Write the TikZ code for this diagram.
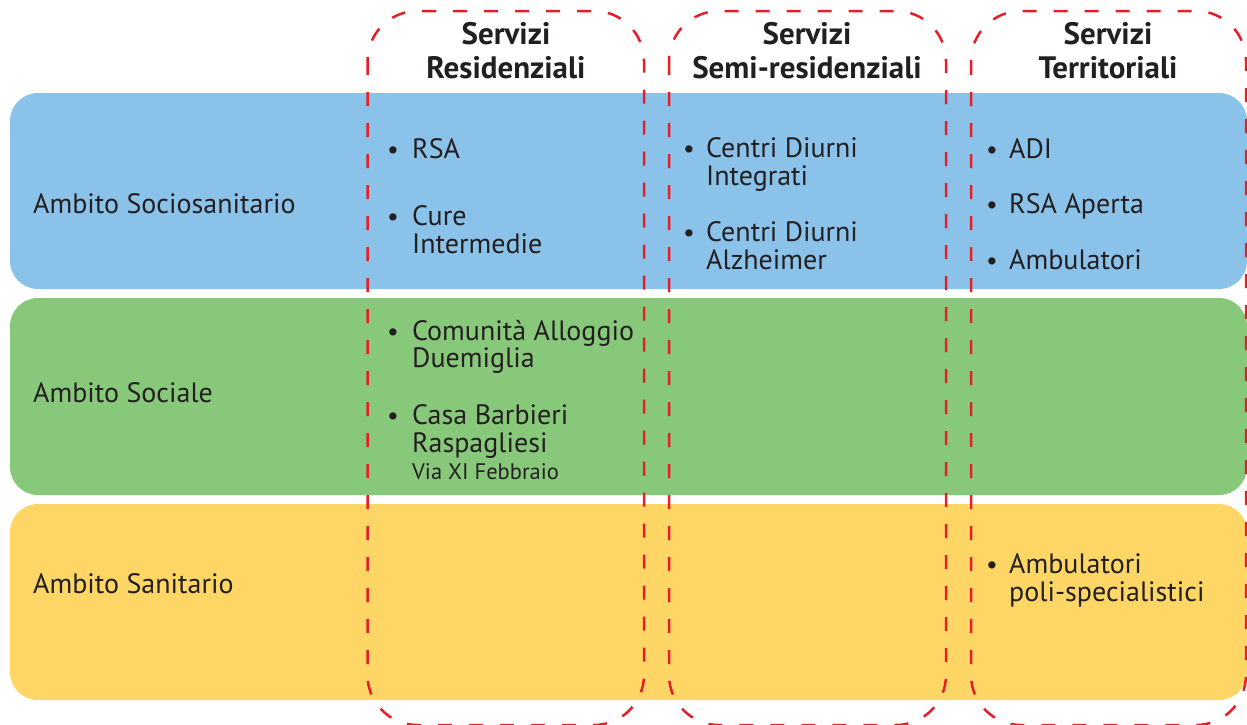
\documentclass[tikz,border=0pt]{standalone}
\usepackage{fontspec}
\setmainfont{PT Sans}
\definecolor{bandblue}{HTML}{8AC2E9}
\definecolor{bandgreen}{HTML}{88C87A}
\definecolor{bandyellow}{HTML}{FED666}
\definecolor{dashred}{HTML}{E51E28}
\definecolor{ink}{HTML}{231F20}
\tikzset{
  band/.style={rounded corners=28pt},
  colbox/.style={draw=dashred, line width=2.5pt, dash pattern=on 14pt off 17pt, rounded corners=50pt},
  lbl/.style={anchor=base west, inner sep=0pt, text=ink, font=\fontsize{28}{30}\selectfont},
  bul/.style={anchor=base, inner sep=0pt, text=ink, font=\fontsize{26}{28}\selectfont},
  note/.style={anchor=base west, inner sep=0pt, text=ink, font=\fontsize{22.5}{24}\selectfont},
  head/.style={anchor=base, inner sep=0pt, text=ink, font=\bfseries\fontsize{31}{33}\selectfont}
}
\begin{document}
\begin{tikzpicture}[x=1pt, y=-1pt]
\useasboundingbox (0,0) rectangle (1247,724);
\begin{scope}
  \clip (0,0) rectangle (1247,724);
  % horizontal bands
  \fill[bandblue, band]   (10,93)  rectangle (1247,289);
  \fill[bandgreen, band]  (10,298) rectangle (1247,495);
  \fill[bandyellow, band] (10,504) rectangle (1247,700);
  % dashed service columns
  \draw[colbox] (367.5,11) rectangle (644,725);
  \draw[colbox] (669,11)   rectangle (946,725);
  \draw[colbox] (971,11)   rectangle (1246,725);
\end{scope}

% column headings
\node[head] (h1a) at (506,44) {Servizi};
\node[head] (h1b) at (506,78) {Residenziali};
\node[head] (h2a) at (807,44) {Servizi};
\node[head] (h2b) at (807,78) {Semi-residenziali};
\node[head] (h3a) at (1108,44) {Servizi};
\node[head] (h3b) at (1108,78) {Territoriali};

% row labels
\node[lbl] (r1) at (33,213) {Ambito Sociosanitario};
\node[lbl] (r2) at (33,402) {Ambito Sociale};
\node[lbl] (r3) at (33,593) {Ambito Sanitario};

% Servizi Residenziali
\node[bul] (b11) at (393,158) {•};
\node[lbl] (t11) at (412,158) {RSA};
\node[bul] (b12) at (393,225) {•};
\node[lbl] (t12) at (412,225) {Cure};
\node[lbl] (t12b) at (412,253) {Intermedie};
\node[bul] (b13) at (393,340) {•};
\node[lbl] (t13) at (412,340) {Comunità Alloggio};
\node[lbl] (t13b) at (412,367) {Duemiglia};
\node[bul] (b14) at (393,424) {•};
\node[lbl] (t14) at (412,424) {Casa Barbieri};
\node[lbl] (t14b) at (412,452) {Raspagliesi};
\node[note] (t14c) at (412,479) {Via XI Febbraio};

% Servizi Semi-residenziali
\node[bul] (b21) at (689,157) {•};
\node[lbl] (t21) at (706,157) {Centri Diurni};
\node[lbl] (t21b) at (706,185) {Integrati};
\node[bul] (b22) at (689,241) {•};
\node[lbl] (t22) at (706,241) {Centri Diurni};
\node[lbl] (t22b) at (706,269) {Alzheimer};

% Servizi Territoriali
\node[bul] (b31) at (992,158) {•};
\node[lbl] (t31) at (1009,158) {ADI};
\node[bul] (b32) at (992,213) {•};
\node[lbl] (t32) at (1009,213) {RSA Aperta};
\node[bul] (b33) at (992,269) {•};
\node[lbl] (t33) at (1009,269) {Ambulatori};
\node[bul] (b34) at (992,573) {•};
\node[lbl] (t34) at (1009,573) {Ambulatori};
\node[lbl] (t34b) at (1009,601) {poli-specialistici};
\end{tikzpicture}
\end{document}
